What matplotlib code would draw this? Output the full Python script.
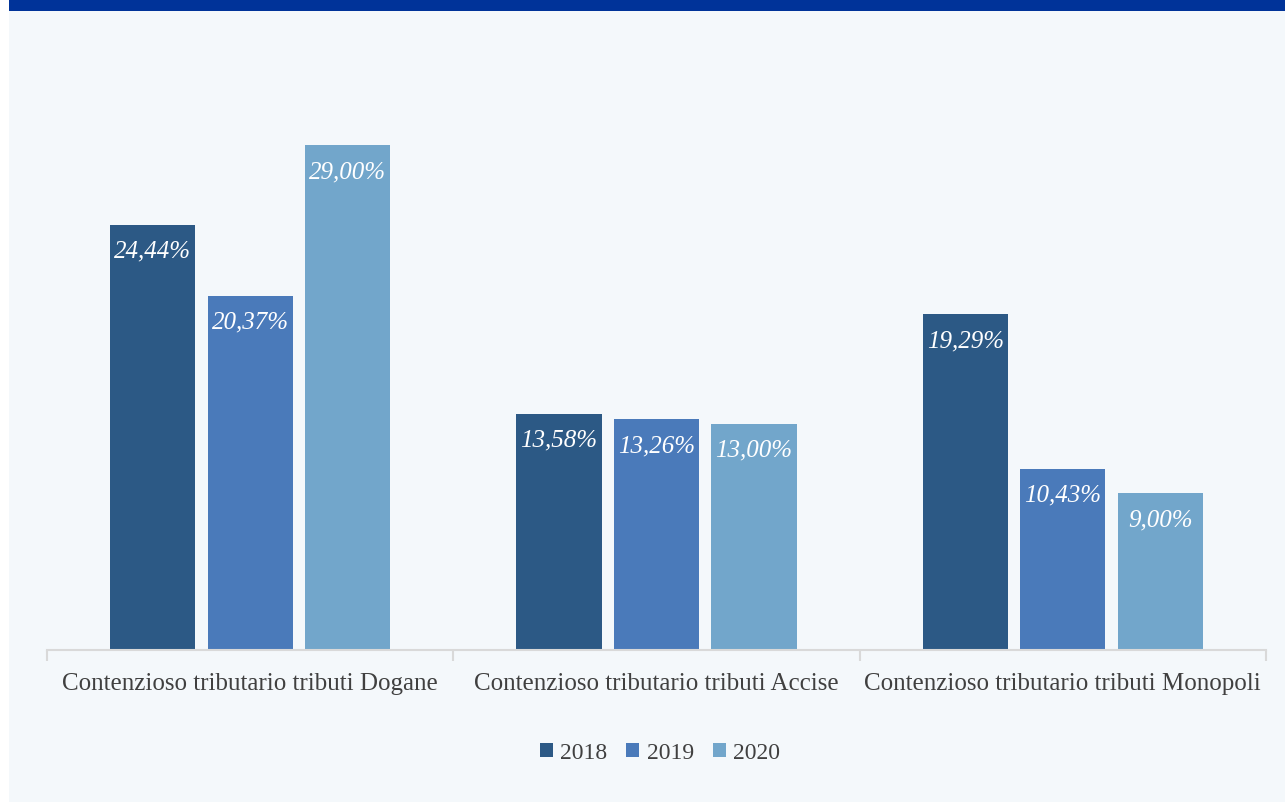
import numpy as np
import matplotlib.pyplot as plt
from matplotlib.patches import Rectangle

categories = ["Contenzioso tributario tributi Dogane",
              "Contenzioso tributario tributi Accise",
              "Contenzioso tributario tributi Monopoli"]
years = ["2018", "2019", "2020"]
values = {"2018": [24.44, 13.58, 19.29],
          "2019": [20.37, 13.26, 10.43],
          "2020": [29.00, 13.00, 9.00]}
colors = {"2018": "#2c5985", "2019": "#4a7aba", "2020": "#72a6cb"}

W, H = 1285, 803
fig = plt.figure(figsize=(W / 100, H / 100), dpi=100)
fig.patch.set_facecolor("white")

# background panel and top band
fig.add_artist(Rectangle((9 / W, 0), 1 - 9 / W, 1, transform=fig.transFigure,
                         facecolor="#f4f8fb", edgecolor="none", zorder=-2))
fig.add_artist(Rectangle((9 / W, 1 - 12 / H), 1 - 9 / W, 12 / H, transform=fig.transFigure,
                         facecolor="#003399", edgecolor="none", zorder=-1))

ax_left, ax_right = 47, 1266
ax_bottom, ax_top = 651, 42
ax = fig.add_axes([ax_left / W, 1 - ax_bottom / H, (ax_right - ax_left) / W,
                   (ax_bottom - ax_top) / H])
ax.set_facecolor("none")

x = np.arange(len(categories))
bw = 0.21
step = 0.24
serif = ["Liberation Serif", "DejaVu Serif"]
for i, y in enumerate(years):
    pos = x + (i - 1) * step
    bars = ax.bar(pos, values[y], width=bw, color=colors[y], label=y, zorder=2)
    for b, v in zip(bars, values[y]):
        ax.text(b.get_x() + b.get_width() / 2, v - 1.5, f"{v:.2f}%".replace(".", ","),
                ha="center", va="center", color="white", fontsize=18,
                style="italic", family=serif, zorder=3)

ax.set_xlim(-0.5, 2.5)
ax.set_ylim(0, 35)
ax.set_yticks([])
for s in ["top", "right", "left"]:
    ax.spines[s].set_visible(False)
ax.spines["bottom"].set_color("#d9d9d9")
ax.spines["bottom"].set_linewidth(1.5)
ax.set_xticks([-0.5, 0.5, 1.5, 2.5], minor=False)
ax.set_xticklabels([])
ax.tick_params(axis="x", length=8, color="#d9d9d9", width=1.5)
ax.set_xticks(x, minor=True)
ax.set_xticklabels(categories, minor=True, fontsize=18, color="#404040", family=serif)
ax.tick_params(axis="x", which="minor", length=0, pad=16)

leg = fig.legend(loc="center", bbox_to_anchor=(660 / W, 1 - 754 / H), ncol=3,
                 frameon=False, prop={"family": serif, "size": 17},
                 handlelength=0.55, handleheight=0.55, handletextpad=0.3,
                 columnspacing=0.8)
for t in leg.get_texts():
    t.set_color("#404040")

fig.savefig("out.png", dpi=100, facecolor=fig.get_facecolor())
